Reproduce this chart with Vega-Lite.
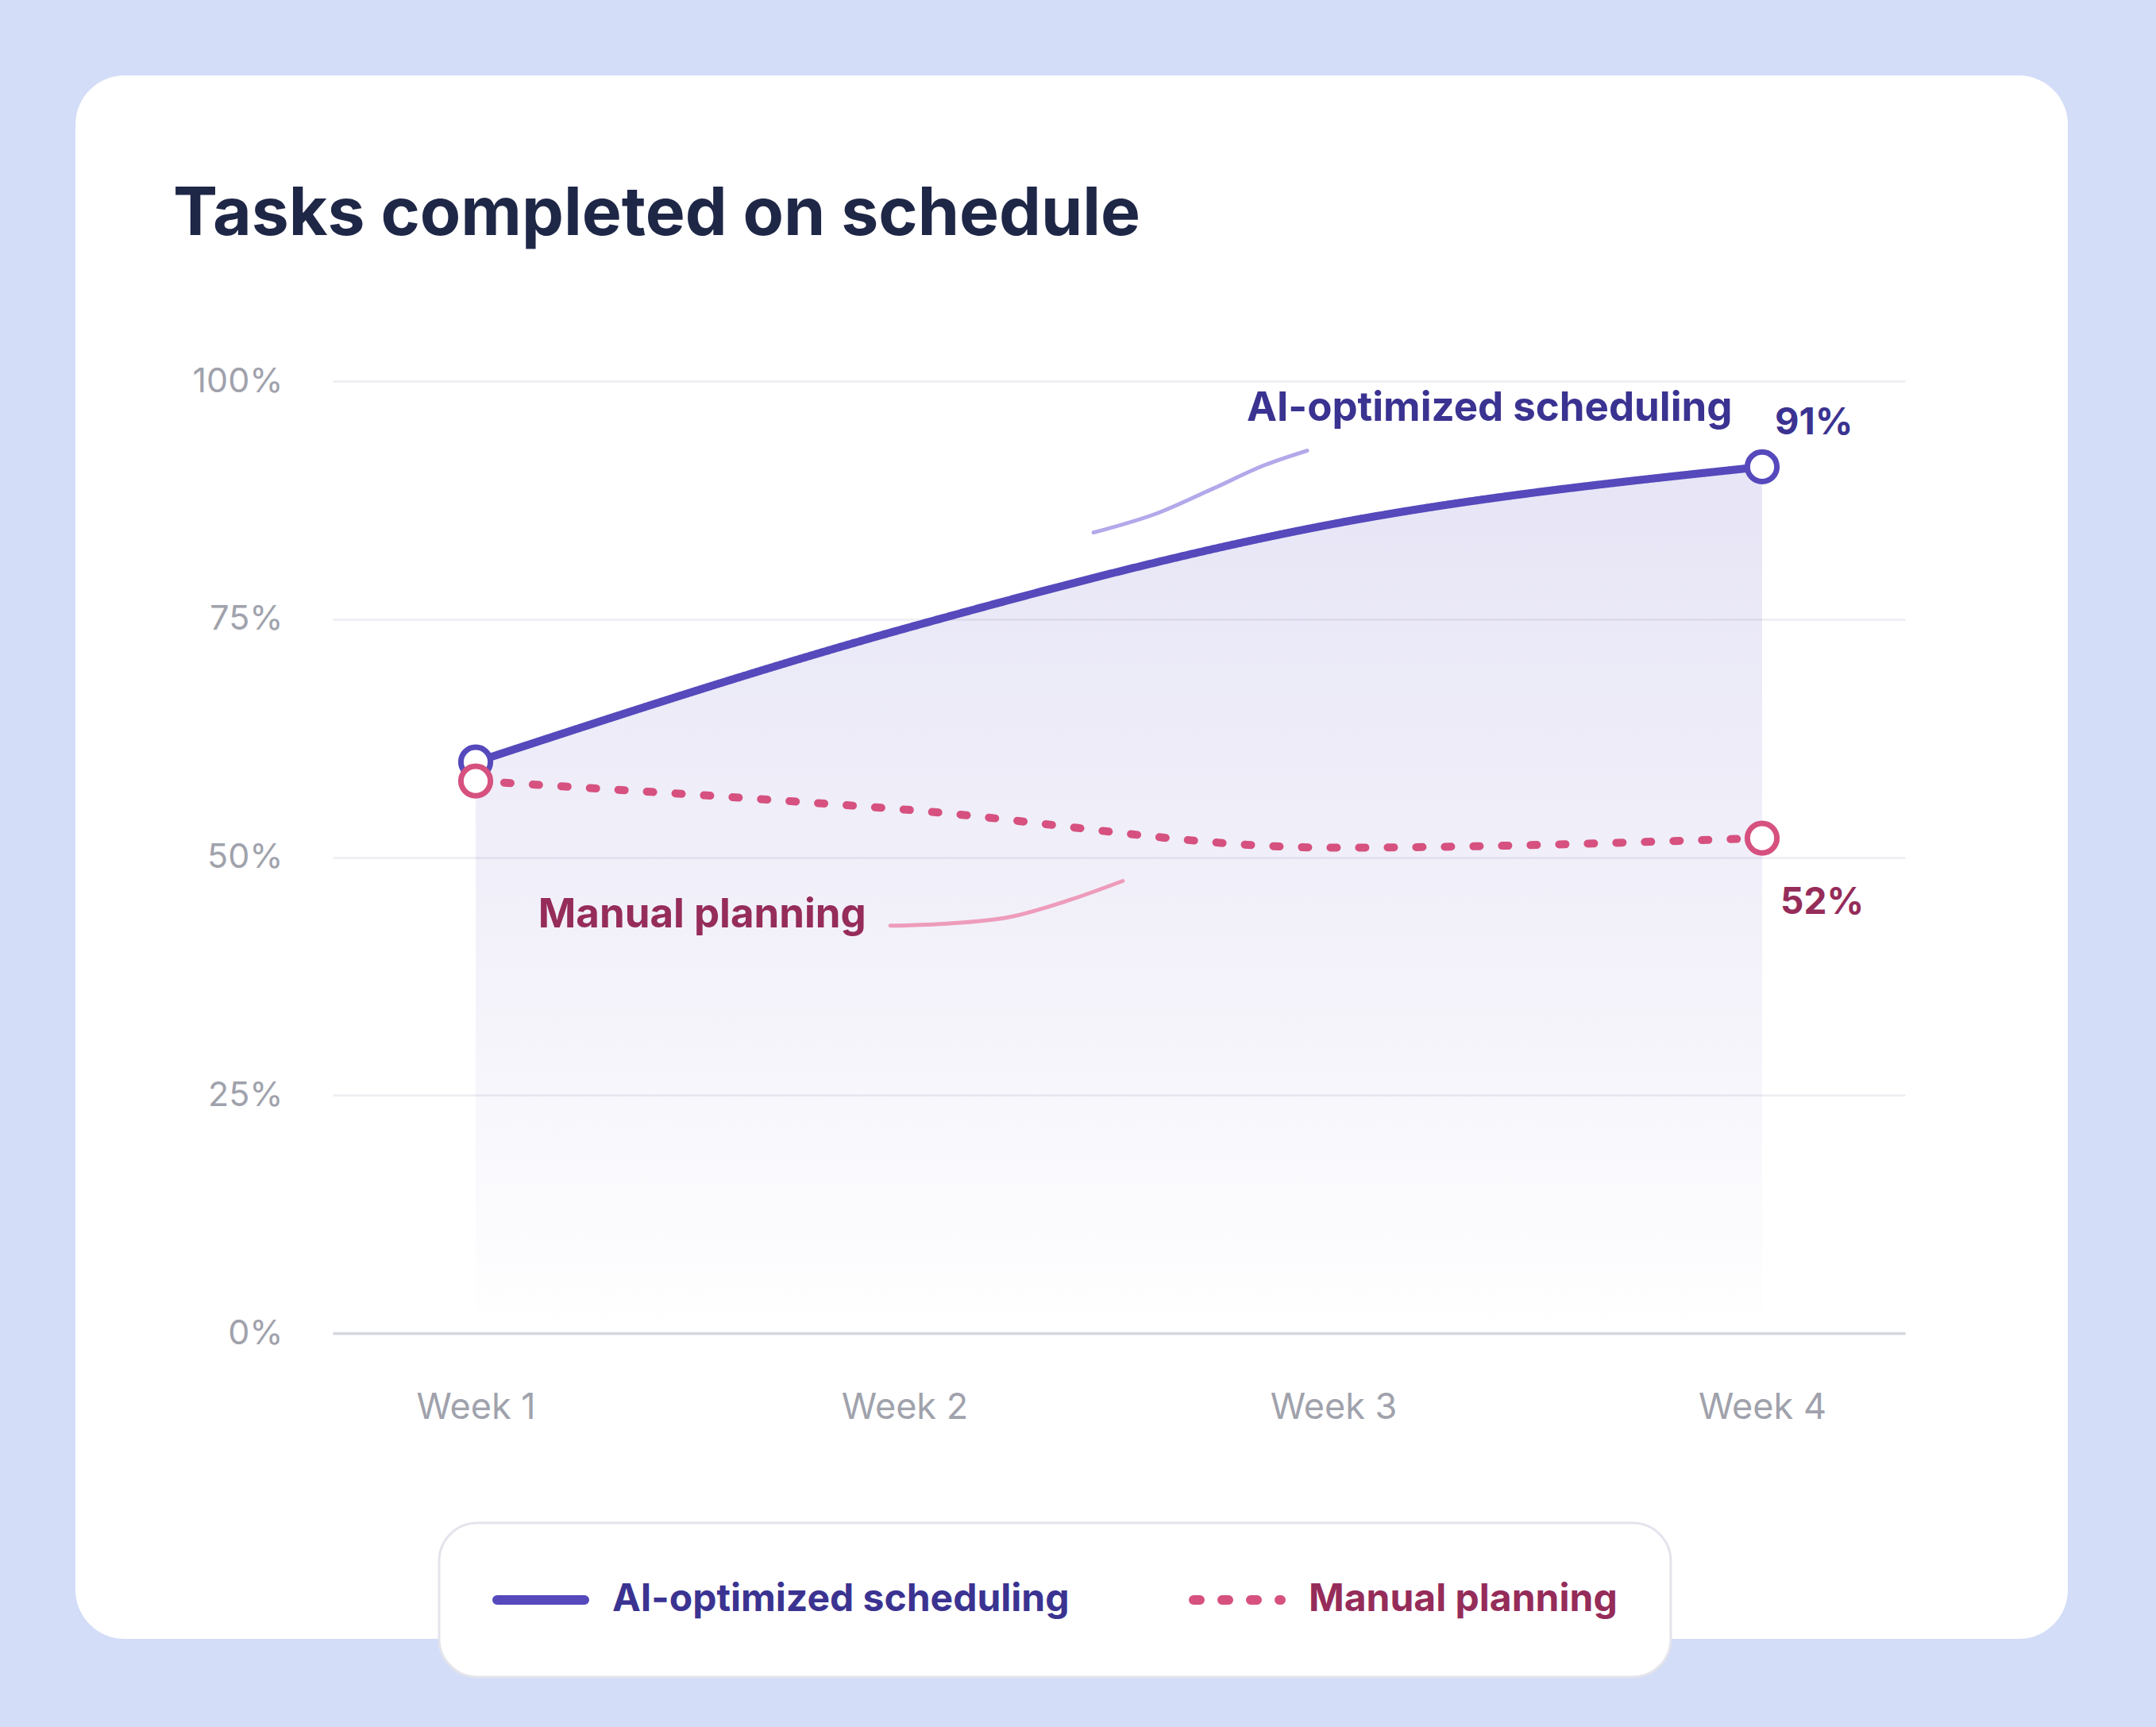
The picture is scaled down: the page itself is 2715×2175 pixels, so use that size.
{
  "$schema": "https://vega.github.io/schema/vega-lite/v6.json",
  "width": 2509,
  "height": 1969,
  "autosize": {"type": "none"},
  "padding": {"left": 95, "top": 95, "right": 111, "bottom": 111},
  "background": "#d3ddf7",
  "config": {
    "font": "Inter",
    "view": {"fill": "#ffffff", "stroke": null, "cornerRadius": 62},
    "legend": {
      "strokeColor": "#e3e4ec",
      "strokeWidth": 3,
      "fillColor": "#ffffff",
      "cornerRadius": 48,
      "padding": 67
    }
  },
  "title": {
    "text": "Tasks completed on schedule",
    "anchor": "start",
    "frame": "group",
    "orient": "top",
    "offset": 0,
    "dx": 123,
    "dy": 285,
    "baseline": "alphabetic",
    "font": "Inter",
    "fontSize": 84,
    "fontWeight": 700,
    "color": "#1f2747"
  },
  "datasets": {
    "weekly": [
      {"week": 1, "series": "AI-optimized scheduling", "share": 0.60},
      {"week": 2, "series": "AI-optimized scheduling", "share": 0.74},
      {"week": 3, "series": "AI-optimized scheduling", "share": 0.85},
      {"week": 4, "series": "AI-optimized scheduling", "share": 0.91},
      {"week": 1, "series": "Manual planning", "share": 0.58},
      {"week": 2, "series": "Manual planning", "share": 0.55},
      {"week": 3, "series": "Manual planning", "share": 0.51},
      {"week": 4, "series": "Manual planning", "share": 0.52}
    ],
    "leaders": [
      {"leader": "ai", "week": 2.441, "share": 0.841},
      {"leader": "ai", "week": 2.594, "share": 0.862},
      {"leader": "ai", "week": 2.719, "share": 0.887},
      {"leader": "ai", "week": 2.841, "share": 0.912},
      {"leader": "ai", "week": 2.939, "share": 0.927},
      {"leader": "manual", "week": 1.967, "share": 0.428},
      {"leader": "manual", "week": 2.091, "share": 0.430},
      {"leader": "manual", "week": 2.244, "share": 0.437},
      {"leader": "manual", "week": 2.385, "share": 0.455},
      {"leader": "manual", "week": 2.509, "share": 0.475}
    ],
    "callouts": [
      {"series": "AI-optimized scheduling", "week": 2.798, "share": 0.9587},
      {"series": "Manual planning", "week": 1.146, "share": 0.4262}
    ]
  },
  "layer": [
    {
      "data": {"name": "weekly"},
      "transform": [{"filter": "datum.series === 'AI-optimized scheduling'"}],
      "mark": {
        "type": "area",
        "interpolate": "monotone",
        "fill": {
          "gradient": "linear",
          "x1": 0, "y1": 0, "x2": 0, "y2": 1,
          "stops": [
            {"offset": 0, "color": "rgba(91,79,192,0.15)"},
            {"offset": 0.6, "color": "rgba(91,79,192,0.07)"},
            {"offset": 1, "color": "rgba(91,79,192,0.0)"}
          ]
        }
      },
      "encoding": {
        "x": {"field": "week", "type": "quantitative"},
        "y": {"field": "share", "type": "quantitative"}
      }
    },
    {
      "data": {"name": "leaders"},
      "transform": [{"filter": "datum.leader === 'ai'"}],
      "mark": {"type": "line", "interpolate": "monotone", "stroke": "#b2a9ea", "strokeWidth": 5, "strokeCap": "round"},
      "encoding": {
        "x": {"field": "week", "type": "quantitative"},
        "y": {"field": "share", "type": "quantitative"}
      }
    },
    {
      "data": {"name": "leaders"},
      "transform": [{"filter": "datum.leader === 'manual'"}],
      "mark": {"type": "line", "interpolate": "monotone", "stroke": "#ee9cbb", "strokeWidth": 5, "strokeCap": "round"},
      "encoding": {
        "x": {"field": "week", "type": "quantitative"},
        "y": {"field": "share", "type": "quantitative"}
      }
    },
    {
      "data": {"name": "weekly"},
      "mark": {"type": "line", "interpolate": "monotone", "strokeWidth": 10, "strokeCap": "round"},
      "encoding": {
        "x": {
          "field": "week",
          "type": "quantitative",
          "scale": {"domain": [0.66667, 4.33333], "range": [324, 2304], "nice": false, "zero": false},
          "axis": {
            "title": null,
            "values": [1, 2, 3, 4],
            "labelExpr": "'Week ' + datum.value",
            "offset": -385,
            "grid": false,
            "domain": false,
            "ticks": false,
            "tickSize": 0,
            "labelPadding": 107,
            "labelBaseline": "alphabetic",
            "labelFlush": false,
            "labelFontSize": 45,
            "labelColor": "#a0a2ac"
          }
        },
        "y": {
          "field": "share",
          "type": "quantitative",
          "scale": {"domain": [0, 1], "range": [1584, 385], "nice": false, "zero": true},
          "axis": {
            "title": null,
            "values": [0, 0.25, 0.5, 0.75, 1],
            "format": ".0%",
            "offset": -324,
            "grid": true,
            "domain": false,
            "ticks": false,
            "tickSize": 0,
            "labelPadding": 63,
            "labelFontSize": 43,
            "labelColor": "#a0a2ac",
            "gridColor": {"condition": {"test": "datum.value === 0", "value": "#d5d6df"}, "value": "#ededf2"},
            "gridWidth": {"condition": {"test": "datum.value === 0", "value": 3.5}, "value": 2.5}
          }
        },
        "color": {
          "field": "series",
          "type": "nominal",
          "scale": {"domain": ["AI-optimized scheduling", "Manual planning"], "range": ["#5549bc", "#d6517f"]},
          "legend": {
            "title": null,
            "orient": "none",
            "direction": "horizontal",
            "legendX": 458,
            "legendY": 1823,
            "symbolType": "stroke",
            "symbolSize": 12100,
            "symbolStrokeWidth": 12,
            "clipHeight": 60,
            "labelOffset": 29,
            "columnPadding": 150,
            "labelFont": "Inter",
            "labelFontSize": 48,
            "labelFontWeight": 700,
            "labelLimit": 0,
            "encoding": {
              "symbols": {
                "strokeCap": {"value": "round"}
              },
              "labels": {
                "fill": {"condition": {"test": "datum.value === 'Manual planning'", "value": "#952c59"}, "value": "#3b3391"}
              }
            }
          }
        },
        "strokeDash": {
          "field": "series",
          "type": "nominal",
          "scale": {"domain": ["AI-optimized scheduling", "Manual planning"], "range": [[1, 0], [8, 28]]},
          "legend": null
        }
      }
    },
    {
      "data": {"name": "weekly"},
      "transform": [{"filter": "datum.week === 1 || datum.week === 4"}],
      "mark": {"type": "point", "shape": "circle", "filled": false, "fill": "#ffffff", "size": 1385, "strokeWidth": 7, "opacity": 1},
      "encoding": {
        "x": {"field": "week", "type": "quantitative"},
        "y": {"field": "share", "type": "quantitative"},
        "color": {"field": "series", "type": "nominal", "legend": null}
      }
    },
    {
      "data": {"name": "weekly"},
      "transform": [{"filter": "datum.week === 4 && datum.series === 'AI-optimized scheduling'"}],
      "mark": {"type": "text", "align": "left", "baseline": "alphabetic", "dx": 16, "dy": -41, "fontSize": 47, "fontWeight": 700, "color": "#3b3391"},
      "encoding": {
        "x": {"field": "week", "type": "quantitative"},
        "y": {"field": "share", "type": "quantitative"},
        "text": {"field": "share", "type": "quantitative", "format": ".0%"}
      }
    },
    {
      "data": {"name": "weekly"},
      "transform": [{"filter": "datum.week === 4 && datum.series === 'Manual planning'"}],
      "mark": {"type": "text", "align": "left", "baseline": "alphabetic", "dx": 23, "dy": 95, "fontSize": 46, "fontWeight": 700, "color": "#952c59"},
      "encoding": {
        "x": {"field": "week", "type": "quantitative"},
        "y": {"field": "share", "type": "quantitative"},
        "text": {"field": "share", "type": "quantitative", "format": ".0%"}
      }
    },
    {
      "data": {"name": "callouts"},
      "mark": {"type": "text", "align": "left", "baseline": "alphabetic", "fontSize": 51, "fontWeight": 700},
      "encoding": {
        "x": {"field": "week", "type": "quantitative"},
        "y": {"field": "share", "type": "quantitative"},
        "text": {"field": "series", "type": "nominal"},
        "fill": {
          "field": "series",
          "type": "nominal",
          "scale": {"domain": ["AI-optimized scheduling", "Manual planning"], "range": ["#3b3391", "#952c59"]},
          "legend": null
        }
      }
    }
  ]
}
